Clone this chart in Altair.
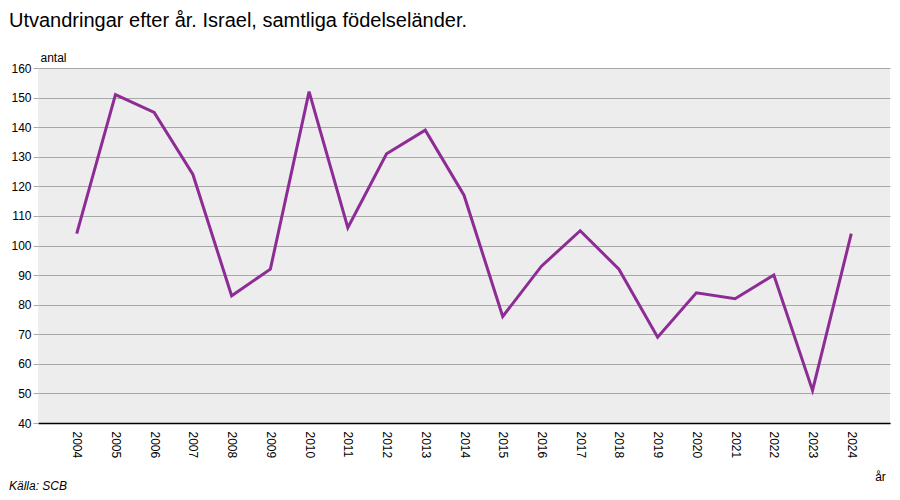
import altair as alt
import pandas as pd

years = [str(y) for y in range(2004, 2025)]
values = [104, 151, 145, 124, 83, 92, 152, 106, 131, 139, 117, 76, 93, 105, 92, 69, 84, 82, 90, 51, 104]

df = pd.DataFrame({"year": years, "value": values})

FONT = "Liberation Sans"
W, H = 852, 355

line = alt.Chart(df).mark_line(color="#8E2C96", strokeWidth=3, clip=False).encode(
    x=alt.X("year:N", sort=years,
            scale=alt.Scale(type="point", padding=1),
            axis=alt.Axis(title="år", labelAngle=90, labelAlign="left", labelBaseline="middle",
                          labelPadding=8, ticks=False, domainColor="#000000", domainWidth=1.5,
                          labelFont=FONT, labelFontSize=12, labelColor="#000000",
                          titleFont=FONT, titleFontSize=12, titleFontWeight="normal",
                          titleColor="#000000", titleX=842, titleY=60, titleAlign="center",
                          titleBaseline="bottom", grid=False)),
    y=alt.Y("value:Q",
            scale=alt.Scale(domain=[40, 160], nice=False, zero=False),
            axis=alt.Axis(title="antal", values=list(range(40, 161, 10)), domain=False,
                          tickColor="#A8A8A8", tickSize=5, gridColor="#A8A8A8", gridWidth=1,
                          labelFont=FONT, labelFontSize=12, labelColor="#000000", labelPadding=2,
                          titleFont=FONT, titleFontSize=12, titleFontWeight="normal",
                          titleColor="#000000", titleAngle=0, titleAlign="left",
                          titleBaseline="bottom", titleX=2, titleY=-4)),
)

source = alt.Chart(pd.DataFrame({"t": ["Källa: SCB"]})).mark_text(
    font=FONT, fontSize=12, fontStyle="italic", align="left", baseline="bottom", color="#000000"
).encode(x=alt.value(-29), y=alt.value(H + 70), text="t:N")

chart = alt.layer(line, source).properties(
    width=W, height=H,
    title=alt.TitleParams("Utvandringar efter år. Israel, samtliga födelseländer.",
                          anchor="start", frame="group", dx=-29, offset=0, baseline="bottom",
                          font=FONT, fontSize=20, fontWeight="normal", color="#000000"),
    padding={"left": 30, "top": 60, "right": 2, "bottom": 70},
    autosize=alt.AutoSizeParams(type="none"),
).configure_view(fill="#EDEDED", stroke=None)

chart.save("out.html", embed_options={"renderer": "svg", "actions": False})
